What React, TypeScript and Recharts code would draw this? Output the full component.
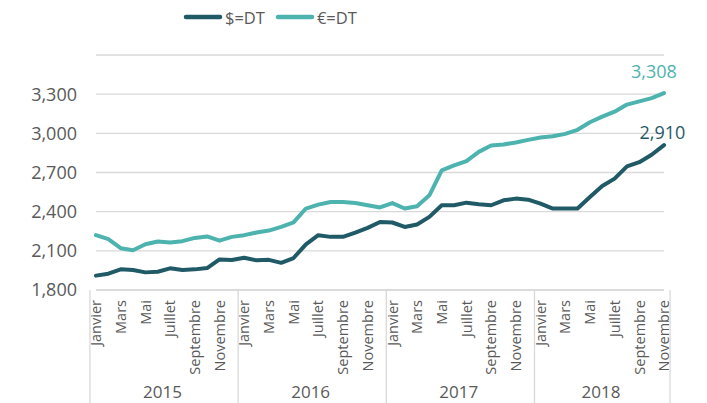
import React from 'react';
import { LineChart, Line, XAxis, YAxis, CartesianGrid, Legend } from 'recharts';

const monthNames = ['Janvier', 'Février', 'Mars', 'Avril', 'Mai', 'Juin', 'Juillet', 'Août', 'Septembre', 'Octobre', 'Novembre', 'Décembre'];
const yearNames = ['2015', '2016', '2017', '2018'];

const usdValues = [
  1910, 1925, 1958, 1953, 1935, 1940, 1966, 1953, 1958, 1968, 2034, 2030,
  2047, 2027, 2031, 2008, 2045, 2150, 2220, 2207, 2207, 2240, 2276, 2321,
  2317, 2283, 2302, 2360, 2449, 2449, 2469, 2456, 2449, 2487, 2500, 2492,
  2462, 2424, 2424, 2424, 2512, 2596, 2653, 2747, 2779, 2836, 2910,
];
const eurValues = [
  2220, 2190, 2120, 2105, 2150, 2172, 2164, 2174, 2199, 2210, 2178, 2207,
  2220, 2240, 2255, 2283, 2318, 2424, 2454, 2474, 2474, 2466, 2449, 2432,
  2466, 2424, 2441, 2525, 2716, 2754, 2787, 2858, 2907, 2915, 2930, 2950,
  2968, 2978, 2996, 3027, 3085, 3128, 3166, 3220, 3245, 3270, 3308,
];
const yTicks = [1800, 2100, 2400, 2700, 3000, 3300];

const data = usdValues.map((u, i) => ({
  idx: i,
  month: monthNames[i % 12],
  year: yearNames[Math.floor(i / 12)],
  usd: u,
  eur: eurValues[i],
}));

const W = 707;
const H = 403;
const MARGIN = { top: 29, right: 43, bottom: 0, left: 0 };
const Y_W = 96;
const X_H = 113;
const N = data.length;
const BW = (W - MARGIN.left - MARGIN.right - Y_W) / N;

const DARK = '#1f5a66';
const LIGHT = '#4db3ae';
const GRID = '#d9d9d9';
const TXT = '#595959';
const FONT = '"Open Sans", sans-serif';

const fmt = (v: number) => v.toLocaleString('en-US');

const XTick = (props: any) => {
  const { x, y, index } = props;
  const d = data[index];
  const items: any[] = [];
  if (index % 2 === 0) {
    items.push(
      <text key="m" x={x} y={y + 10} transform={`rotate(-90 ${x} ${y + 10})`} dy="0.36em" textAnchor="end" fill={TXT} fontSize={14.5} fontFamily={FONT}>
        {d.month}
      </text>
    );
  }
  if (index % 12 === 0) {
    const lastIdx = Math.min(index + 11, N - 1);
    const cx = x + ((lastIdx - index) * BW) / 2;
    items.push(<line key="s" x1={x - BW / 2} x2={x - BW / 2} y1={y} y2={H} stroke={GRID} strokeWidth={1.3} />);
    items.push(
      <text key="y" x={cx} y={398} textAnchor="middle" fill={TXT} fontSize={17} fontFamily={FONT}>
        {d.year}
      </text>
    );
  }
  if (index === N - 1) {
    items.push(<line key="e" x1={x + BW / 2} x2={x + BW / 2} y1={y} y2={H} stroke={GRID} strokeWidth={1.3} />);
  }
  return <g>{items}</g>;
};

const makeLabel = (color: string, dx: number, dy: number) => (props: any) => {
  const { x, y, index, value } = props;
  if (index !== N - 1) return null;
  return (
    <text x={x + dx} y={y + dy} textAnchor="middle" fill={color} fontSize={18} fontFamily={FONT}>
      {fmt(value)}
    </text>
  );
};

const LegendContent = (props: any) => {
  const { payload } = props;
  return (
    <div style={{ display: 'flex', alignItems: 'center', height: 26, fontFamily: FONT, fontSize: 16.5, color: TXT }}>
      {(payload || []).map((p: any) => (
        <div key={p.value} style={{ display: 'flex', alignItems: 'center', marginRight: 10 }}>
          <svg width={40} height={8} style={{ marginRight: 2 }}>
            <line x1={3} x2={37} y1={4} y2={4} stroke={p.color} strokeWidth={4.5} strokeLinecap="round" />
          </svg>
          <span>{p.value}</span>
        </div>
      ))}
    </div>
  );
};

export default function App() {
  return (
    <div style={{ position: 'absolute', left: 0, top: 0, background: '#fff' }}>
      <LineChart width={W} height={H} data={data} margin={MARGIN}>
        <CartesianGrid horizontal vertical={false} stroke={GRID} strokeWidth={1.3} />
        <XAxis
          dataKey="idx"
          type="category"
          interval={0}
          height={X_H}
          tickSize={0}
          tickMargin={0}
          tickLine={false}
          axisLine={{ stroke: GRID, strokeWidth: 1.3 }}
          tick={<XTick />}
        />
        <YAxis
          domain={[1800, 3600]}
          ticks={yTicks}
          width={Y_W}
          axisLine={false}
          tickLine={false}
          tickSize={0}
          tickMargin={19}
          tickFormatter={fmt}
          tick={{ fill: TXT, fontSize: 18, fontFamily: FONT }}
        />
        <Legend
          verticalAlign="top"
          align="left"
          content={<LegendContent />}
          wrapperStyle={{ top: 4, left: 183, width: 200, height: 26 }}
        />
        <Line
          name="$=DT"
          dataKey="usd"
          stroke={DARK}
          strokeWidth={4}
          dot={false}
          activeDot={false}
          type="linear"
          strokeLinejoin="round"
          strokeLinecap="round"
          isAnimationActive={false}
          label={makeLabel(DARK, -1.5, -6.5)}
        />
        <Line
          name="€=DT"
          dataKey="eur"
          stroke={LIGHT}
          strokeWidth={4}
          dot={false}
          activeDot={false}
          type="linear"
          strokeLinejoin="round"
          strokeLinecap="round"
          isAnimationActive={false}
          label={makeLabel(LIGHT, -10, -15)}
        />
      </LineChart>
    </div>
  );
}
